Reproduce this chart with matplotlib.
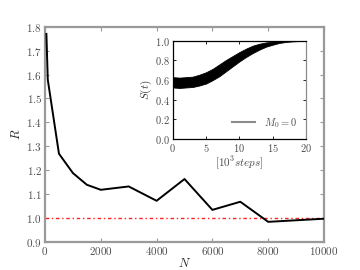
import matplotlib
matplotlib.use("Agg")
import matplotlib.pyplot as plt
from matplotlib.ticker import FuncFormatter
from matplotlib.lines import Line2D

plt.rcParams['mathtext.fontset'] = 'cm'
plt.rcParams['font.family'] = ['DejaVu Serif']

# main data
N = [50, 100, 500, 1000, 1500, 2000, 3000, 4000, 5000, 6000, 7000, 8000, 10000]
R = [1.77, 1.578, 1.269, 1.188, 1.139, 1.118, 1.132, 1.072, 1.163, 1.034, 1.068, 0.984, 0.997]
ref_level = 1.0

x_ticks = [0, 2000, 4000, 6000, 8000, 10000]
y_ticks = [0.9, 1.0, 1.1, 1.2, 1.3, 1.4, 1.5, 1.6, 1.7, 1.8]

# inset data: envelope of the noisy S(t) band
t = [0, 1, 2, 3, 4, 5, 6, 7, 8, 9, 10, 11, 12, 13, 14, 15, 16, 17, 18, 19, 20]
S_low = [0.525, 0.52, 0.525, 0.53, 0.545, 0.565, 0.60, 0.64, 0.69, 0.74, 0.79, 0.835, 0.875, 0.91, 0.94, 0.96, 0.978, 0.988, 0.994, 0.997, 0.998]
S_high = [0.63, 0.625, 0.63, 0.635, 0.655, 0.68, 0.715, 0.76, 0.805, 0.845, 0.885, 0.92, 0.95, 0.97, 0.983, 0.992, 0.998, 1.0, 1.002, 1.003, 1.003]
inset_xticks = [0, 5, 10, 15, 20]
inset_yticks = [0.0, 0.2, 0.4, 0.6, 0.8, 1.0]

fig = plt.figure(figsize=(3.6, 2.7), dpi=100)
ax = fig.add_axes([0.125, 0.104, 0.775, 0.797])

ax.plot(N, R, color='k', lw=1.4, zorder=3)
ax.axhline(ref_level, color='#ff2020', lw=1.0, dashes=(2.5, 2, 1, 2), zorder=2)
ax.set_xlim(0, 10000)
ax.set_ylim(0.9, 1.8)
ax.set_xticks(x_ticks)
ax.set_yticks(y_ticks)
ax.xaxis.set_major_formatter(FuncFormatter(lambda v, p: r'$%d$' % v))
ax.yaxis.set_major_formatter(FuncFormatter(lambda v, p: r'$%.1f$' % v))
gray = '#9a9a9a'
for s in ax.spines.values():
    s.set_color(gray)
    s.set_linewidth(1.6)
ax.tick_params(direction='in', length=3, width=0.8, color=gray, top=True, right=True,
               labelsize=8, labelcolor='0.3', pad=2)
ax.set_xlabel(r'$N$', fontsize=9, labelpad=0, color='0.15')
ax.set_ylabel(r'$R$', fontsize=9, labelpad=2, color='0.15')

# inset
ins = fig.add_axes([0.48, 0.485, 0.370, 0.364])
ins.fill_between(t, S_low, S_high, color='k', lw=0.6, edgecolor='k')
ins.set_xlim(0, 20)
ins.set_ylim(0, 1.0)
ins.set_xticks(inset_xticks)
ins.set_yticks(inset_yticks)
ins.xaxis.set_major_formatter(FuncFormatter(lambda v, p: r'$%d$' % v))
ins.yaxis.set_major_formatter(FuncFormatter(lambda v, p: r'$%.1f$' % v))
for s in ins.spines.values():
    s.set_color('k')
    s.set_linewidth(0.9)
ins.spines['right'].set_color('0.55')
ins.tick_params(direction='in', length=2.5, width=0.6, top=True, right=True,
                labelsize=7.5, labelcolor='0.3', pad=2)
ins.set_ylabel(r'$S(t)$', fontsize=8, labelpad=1, color='0.2')
ins.set_xlabel(r'$[10^3 steps]$', fontsize=8, labelpad=1, color='0.3')
ins.legend([Line2D([], [], color='0.55', lw=1.5)], [r'$M_0=0$'], loc='lower right',
           frameon=False, fontsize=7.5, handlelength=2.2, labelcolor='0.3')

fig.savefig('out.png', dpi=100)
